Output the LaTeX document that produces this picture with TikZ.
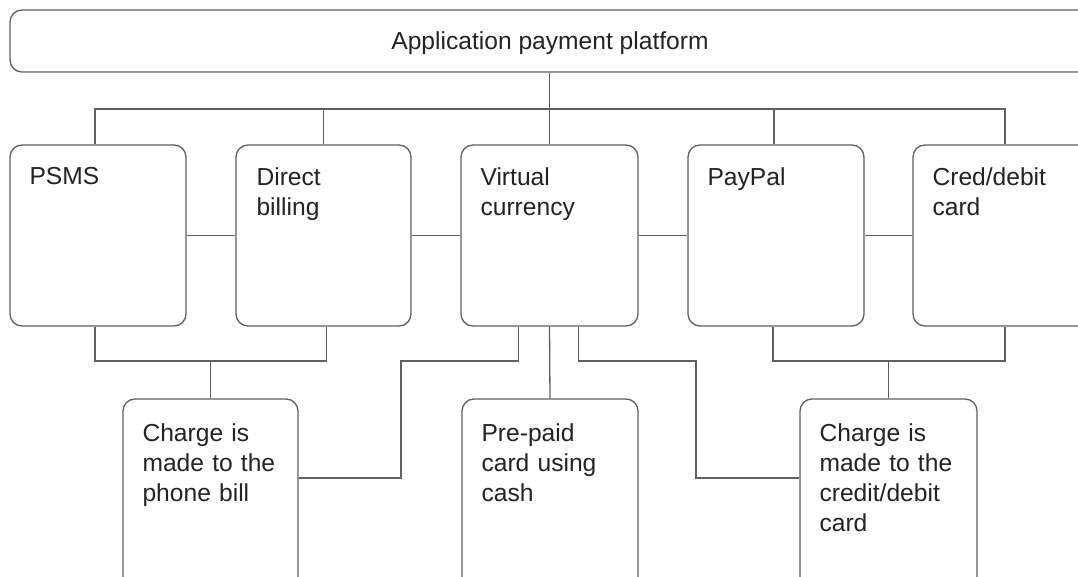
\documentclass[tikz,border=0pt]{standalone}
\usepackage{fontspec}
\setmainfont{Liberation Sans}
\definecolor{lineg}{RGB}{95,95,95}
\definecolor{textg}{RGB}{35,35,35}
\begin{document}
\begin{tikzpicture}[x=1pt,y=-1pt,
  box/.style={draw=lineg,line width=1.3pt,rounded corners=12pt,inner sep=0pt,fill=white},
  lbl/.style={inner sep=0pt,anchor=north west,text width=160pt,align=left,text=textg,
    font=\fontsize{24.6}{30}\selectfont},
  conn/.style={draw=lineg,line width=1.3pt}]
\useasboundingbox (0,0) rectangle (1078,577);
\clip (0,0) rectangle (1078,577);
% top box
\node[box,minimum width=1090pt,minimum height=62pt] (top) at (555,41) {};
\node[inner sep=0pt,anchor=base,text=textg,font=\fontsize{24.6}{30}\selectfont] (toplbl) at (550,50) {Application payment platform};
% row 1 boxes
\node[box,minimum width=176pt,minimum height=181pt] (psms) at (98,235.5) {};
\node[box,minimum width=175pt,minimum height=181pt] (db) at (323.5,235.5) {};
\node[box,minimum width=177pt,minimum height=181pt] (vc) at (549.5,235.5) {};
\node[box,minimum width=176pt,minimum height=181pt] (pp) at (776,235.5) {};
\node[box,minimum width=184pt,minimum height=181pt] (cred) at (1005,235.5) {};
% row 2 boxes
\node[box,minimum width=175pt,minimum height=200pt] (cb1) at (210.5,499) {};
\node[box,minimum width=176pt,minimum height=200pt] (ppc) at (550,499) {};
\node[box,minimum width=177pt,minimum height=200pt] (cb3) at (888.5,499) {};
% labels
\node[lbl] (tpsms) at ([shift={(20,23)}]psms.north west) {PSMS};
\node[lbl] (tdb) at ([shift={(21,23)}]db.north west) {Direct\\billing};
\node[lbl] (tvc) at ([shift={(20,23)}]vc.north west) {Virtual\\currency};
\node[lbl] (tpp) at ([shift={(20,23)}]pp.north west) {PayPal};
\node[lbl] (tcred) at ([shift={(20,23)}]cred.north west) {Cred/debit\\card};
\node[lbl] (tcb1) at ([shift={(20,25)}]cb1.north west) {Charge is\\made to the\\phone bill};
\node[lbl] (tppc) at ([shift={(20,25)}]ppc.north west) {Pre-paid\\card using\\cash};
\node[lbl] (tcb3) at ([shift={(20,25)}]cb3.north west) {Charge is\\made to the\\credit/debit\\card};
% coordinates
\coordinate (tb) at (550,109);
\coordinate (lb) at (210,361);
\coordinate (rb) at (889,361);
\coordinate (j1) at (401,478);
\coordinate (j2) at (696,361);
% top bus
\draw[conn] (vc.north) -- (vc.north |- top.south);
\draw[conn] ([xshift=-3pt]psms.north) |- (tb) -| (cred.north);
\draw[conn] (db.north) -- (db.north |- tb);
\draw[conn] ([xshift=-2pt]pp.north) -- ([xshift=-2pt]pp.north |- tb);
% horizontal links
\draw[conn] (psms) -- (db);
\draw[conn] (db) -- (vc);
\draw[conn] (vc) -- (pp);
\draw[conn] (pp) -- (cred);
% left bottom
\draw[conn] ([xshift=-3pt]psms.south) |- (lb) -| ([xshift=3pt]db.south);
\draw[conn] (cb1.north) -- (cb1.north |- lb);
\draw[conn] (cb1.east |- j1) -- (j1) |- ([xshift=-31pt]vc.south |- lb) -- ([xshift=-31pt]vc.south);
% middle
\draw[conn] (vc.south) -- (ppc.north);
% right
\draw[conn] ([xshift=29pt]vc.south) |- (j2) |- (cb3.west |- j1);
\draw[conn] ([xshift=-3pt]pp.south) |- (rb) -| (cred.south);
\draw[conn] (cb3.north) -- (cb3.north |- rb);
\end{tikzpicture}
\end{document}
